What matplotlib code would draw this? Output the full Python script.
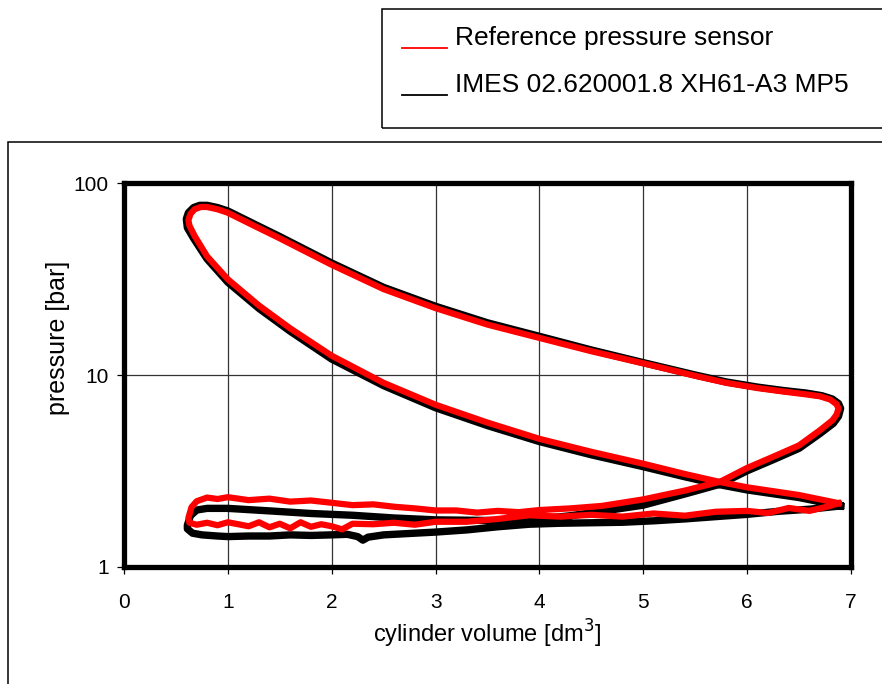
import matplotlib
matplotlib.use('Agg')
import matplotlib.pyplot as plt
from matplotlib.patches import Rectangle
from matplotlib.lines import Line2D

plt.rcParams['font.family'] = ['Liberation Sans', 'DejaVu Sans']

series_names = ['Reference pressure sensor', 'IMES 02.620001.8 XH61-A3 MP5']
series_colors = ['#ff0000', '#000000']

x_ticks = [0, 1, 2, 3, 4, 5, 6, 7]
y_ticks = [1, 10, 100]
y_tick_labels = ['1', '10', '100']

# --- reference sensor (red), cycle split in four strokes ---
ref_comp_v = [6.88, 6.5, 6.0, 5.74, 5.4, 5.0, 4.5, 4.0, 3.5, 3.0, 2.5, 2.0, 1.6, 1.3, 1.0, 0.8, 0.68, 0.63]
ref_comp_p = [2.15, 2.37, 2.6, 2.77, 3.05, 3.45, 3.98, 4.65, 5.65, 7.0, 9.1, 12.6, 17.5, 23.0, 31.5, 41.5, 53.0, 60.0]

ref_exp_v = [0.62, 0.64, 0.68, 0.74, 0.8, 0.9, 1.0, 1.25, 1.5, 2.0, 2.5, 3.0, 3.5, 4.0, 4.5, 5.0, 5.5, 5.8, 6.1, 6.35, 6.55, 6.7, 6.8, 6.86, 6.88]
ref_exp_p = [64, 69, 73, 75, 75, 73, 70, 60, 51.5, 37.5, 28, 22.3, 18.3, 15.6, 13.3, 11.5, 9.9, 9.1, 8.55, 8.2, 7.95, 7.75, 7.45, 7.05, 6.7]

ref_exh_v = [6.86, 6.82, 6.7, 6.5, 6.25, 6.0, 5.74, 5.4, 5.0, 4.6, 4.3, 4.0, 3.8, 3.6, 3.4, 3.2, 3.0, 2.8, 2.6, 2.4, 2.2, 2.0,
             1.8, 1.6, 1.4, 1.2, 1.0, 0.9, 0.8, 0.7, 0.65, 0.62]
ref_exh_p = [6.2, 5.8, 5.15, 4.3, 3.75, 3.28, 2.78, 2.5, 2.25, 2.08, 2.02, 1.98, 1.93, 1.96, 1.92, 1.97, 1.97, 2.02, 2.06, 2.12, 2.1, 2.16,
             2.22, 2.19, 2.27, 2.23, 2.31, 2.26, 2.3, 2.2, 2.05, 1.8]

ref_int_v = [0.63, 0.7, 0.8, 0.9, 1.0, 1.1, 1.2, 1.3, 1.4, 1.5, 1.6, 1.7, 1.8, 1.9, 2.0, 2.1, 2.2, 2.4, 2.6, 2.8, 3.0, 3.3,
             3.6, 3.9, 4.2, 4.5, 4.8, 5.1, 5.4, 5.7, 6.0, 6.2, 6.4, 6.6, 6.8, 6.88]
ref_int_p = [1.7, 1.66, 1.7, 1.65, 1.71, 1.67, 1.63, 1.71, 1.61, 1.68, 1.59, 1.71, 1.62, 1.67, 1.63, 1.57, 1.68, 1.67, 1.7, 1.66, 1.72, 1.72,
             1.78, 1.86, 1.83, 1.87, 1.83, 1.9, 1.85, 1.94, 1.96, 1.91, 2.03, 1.96, 2.08, 2.15]

# --- IMES sensor (black) ---
imes_comp_v = [6.9, 6.5, 6.0, 5.74, 5.4, 5.0, 4.5, 4.0, 3.5, 3.0, 2.5, 2.0, 1.6, 1.3, 1.0, 0.8, 0.67, 0.61]
imes_comp_p = [2.08, 2.3, 2.52, 2.68, 2.95, 3.33, 3.84, 4.5, 5.45, 6.75, 8.8, 12.1, 16.9, 22.2, 30.4, 40.2, 51.5, 58.5]

imes_exp_v = [0.6, 0.62, 0.67, 0.73, 0.8, 0.9, 1.0, 1.25, 1.5, 2.0, 2.5, 3.0, 3.5, 4.0, 4.5, 5.0, 5.5, 5.8, 6.1, 6.35, 6.57, 6.72, 6.82, 6.88, 6.9]
imes_exp_p = [65, 70, 74.5, 76.5, 76.5, 74.5, 71.5, 61.3, 52.6, 38.3, 28.6, 22.8, 18.7, 15.9, 13.5, 11.6, 10.0, 9.2, 8.65, 8.3, 8.05, 7.8, 7.5, 7.1, 6.7]

imes_exh_v = [6.88, 6.83, 6.7, 6.5, 6.25, 6.0, 5.74, 5.4, 5.0, 4.6, 4.3, 4.0, 3.7, 3.4, 3.0, 2.6, 2.2, 1.8, 1.4, 1.0, 0.8, 0.7, 0.64, 0.61]
imes_exh_p = [6.1, 5.6, 4.95, 4.15, 3.62, 3.17, 2.7, 2.4, 2.1, 1.95, 1.85, 1.78, 1.74, 1.75, 1.76, 1.8, 1.86, 1.9, 1.96, 2.02, 2.02, 1.98, 1.85, 1.65]

imes_int_v = [0.61, 0.66, 0.75, 0.9, 1.0, 1.2, 1.4, 1.6, 1.8, 2.0, 2.15, 2.25, 2.3, 2.35, 2.5, 2.8, 3.0, 3.3, 3.6, 3.9, 4.2,
              4.5, 4.8, 5.1, 5.4, 5.7, 6.0, 6.3, 6.6, 6.9]
imes_int_p = [1.58, 1.5, 1.47, 1.45, 1.44, 1.45, 1.45, 1.47, 1.46, 1.47, 1.48, 1.44, 1.38, 1.43, 1.47, 1.5, 1.52, 1.56, 1.62, 1.67, 1.69,
              1.7, 1.71, 1.74, 1.78, 1.83, 1.88, 1.95, 2.0, 2.08]

ref_v = ref_comp_v + ref_exp_v + ref_exh_v + ref_int_v + ref_comp_v[:1]
ref_p = ref_comp_p + ref_exp_p + ref_exh_p + ref_int_p + ref_comp_p[:1]
imes_v = imes_comp_v + imes_exp_v + imes_exh_v + imes_int_v + imes_comp_v[:1]
imes_p = imes_comp_p + imes_exp_p + imes_exh_p + imes_int_p + imes_comp_p[:1]

fig = plt.figure(figsize=(8.82, 6.84), dpi=100)
ax = fig.add_axes([124 / 882, 1 - 567 / 684, 727 / 882, 384 / 684])

ax.plot(imes_v, imes_p, color=series_colors[1], lw=5.3, solid_joinstyle='round', zorder=3)
ax.plot(ref_v, ref_p, color=series_colors[0], lw=4.5, solid_joinstyle='round', zorder=4)

ax.set_yscale('log')
ax.set_xlim(0, 7)
ax.set_ylim(1, 100)
ax.set_xticks(x_ticks)
ax.set_yticks(y_ticks)
ax.set_yticklabels(y_tick_labels)
ax.minorticks_off()
ax.tick_params(axis='both', direction='out', length=5, width=0.9, labelsize=15, colors='black')
ax.tick_params(axis='x', pad=14)
ax.tick_params(axis='y', pad=6)
ax.grid(True, color='#333333', lw=0.9)
ax.set_axisbelow(True)
for sp in ax.spines.values():
    sp.set_linewidth(3.8)
    sp.set_zorder(5)

ax.set_xlabel('cylinder volume [dm$^3$]', fontsize=17, labelpad=4,
              fontfamily=['Liberation Sans Narrow', 'Liberation Sans'])
ax.set_ylabel('pressure [bar]', fontsize=18)
ax.yaxis.set_label_coords((70 - 124) / 727, (567 - 338) / 384)

# outer chart frame
fig.patches.append(Rectangle((8 / 882, -0.05), 1.0, 0.05 + (1 - 142 / 684), transform=fig.transFigure,
                             fill=False, ec='black', lw=1.1))
# legend box
fig.patches.append(Rectangle((382 / 882, 1 - 128 / 684), 0.7, 119 / 684, transform=fig.transFigure,
                             fill=False, ec='black', lw=1.1))
leg_y = [48, 95]
for name, col, yy in zip(series_names, series_colors, leg_y):
    fig.lines.append(Line2D([402 / 882, 447 / 882], [1 - yy / 684] * 2, transform=fig.transFigure,
                            color=col, lw=1.3))
    fig.text(455 / 882, 1 - (yy - 3) / 684, name, fontsize=19, va='baseline', ha='left')

fig.savefig('out.png', dpi=100)
